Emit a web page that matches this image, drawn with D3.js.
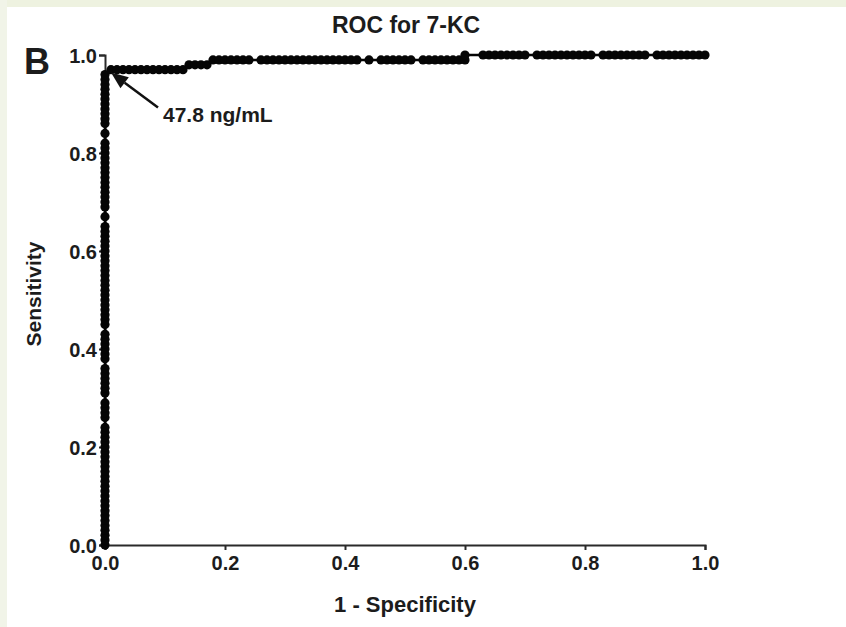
<!DOCTYPE html>
<html>
<head>
<meta charset="utf-8">
<script src="https://cdn.jsdelivr.net/npm/d3@7"></script>
<style>
  html, body { margin: 0; padding: 0; background: #ffffff; }
  svg { display: block; }
  text { font-family: "Liberation Sans", Arial, Helvetica, sans-serif; font-weight: bold; fill: #1c1c1c; }
</style>
</head>
<body>
<script>
// ---- Data ----
const chartTitle = "ROC for 7-KC";
const panelLetter = "B";
const xAxisLabel = "1 - Specificity";
const yAxisLabel = "Sensitivity";
const xTicks = [0.0, 0.2, 0.4, 0.6, 0.8, 1.0];
const yTicks = [0.0, 0.2, 0.4, 0.6, 0.8, 1.0];
const cutoffLabel = "47.8 ng/mL";
const cutoffPoint = [0.0, 0.96];

// Sensitivity values at 1 - Specificity = 0
const tprAtFpr0 = [0.00,0.01,0.02,0.03,0.04,0.05,0.06,0.07,0.08,0.09,0.10,0.11,0.12,0.13,0.14,0.15,0.16,0.17,0.18,0.19,
  0.20,0.21,0.22,0.23,0.24,0.26,0.27,0.28,0.29,0.31,0.32,0.33,0.34,0.35,0.36,0.38,0.39,0.40,0.41,0.42,0.43,
  0.45,0.46,0.47,0.48,0.49,0.50,0.51,0.52,0.53,0.54,0.55,0.56,0.57,0.58,0.59,0.60,0.61,0.62,0.63,0.64,0.65,
  0.67,0.69,0.70,0.71,0.72,0.73,0.74,0.75,0.76,0.77,0.78,0.79,0.80,0.81,0.82,0.84,0.86,0.87,0.88,0.89,0.90,
  0.91,0.92,0.93,0.94,0.95,0.96];

// 1 - Specificity values on each upper sensitivity level
const tprLevels = [0.97, 0.98, 0.99, 1.00];
const fprAt097 = [0.01,0.02,0.03,0.04,0.05,0.06,0.07,0.08,0.09,0.10,0.11,0.12,0.13];
const fprAt098 = [0.14,0.15,0.16,0.17];
const fprAt099 = [0.18,0.19,0.20,0.21,0.22,0.23,0.24,0.26,0.27,0.28,0.29,0.30,0.31,0.32,0.33,0.34,0.35,0.36,0.37,
  0.38,0.39,0.40,0.41,0.42,0.44,0.46,0.47,0.48,0.49,0.50,0.51,0.53,0.54,0.55,0.56,0.57,0.58,0.59,0.60];
const fprAt100 = [0.60,0.63,0.64,0.65,0.66,0.67,0.68,0.69,0.70,0.72,0.73,0.74,0.75,0.76,0.77,0.78,0.79,0.80,0.81,
  0.83,0.84,0.85,0.86,0.87,0.88,0.89,0.90,0.92,0.93,0.94,0.95,0.96,0.97,0.98,0.99,1.00];

// ---- Build points ----
const points = [];
tprAtFpr0.forEach(t => points.push({fpr: 0, tpr: t}));
[fprAt097, fprAt098, fprAt099, fprAt100].forEach((arr, i) => {
  arr.forEach(f => points.push({fpr: f, tpr: tprLevels[i]}));
});

// ---- Layout ----
const W = 846, H = 627;
const svg = d3.select("body").append("svg").attr("width", W).attr("height", H);

// faint scanned-page border strips
svg.append("rect").attr("x", 0).attr("y", 0).attr("width", W).attr("height", 7).attr("fill", "#eef2e0");
svg.append("rect").attr("x", 0).attr("y", 0).attr("width", 7).attr("height", H).attr("fill", "#f1f4e8");

const x = d3.scaleLinear().domain([0, 1]).range([105, 705]);
const y = d3.scaleLinear().domain([0, 1]).range([545, 55]);

// Axes
const xAxis = d3.axisBottom(x).tickValues(xTicks).tickFormat(d3.format(".1f")).tickSize(5).tickSizeOuter(5).tickPadding(6);
const yAxis = d3.axisLeft(y).tickValues(yTicks).tickFormat(d3.format(".1f")).tickSize(6).tickSizeOuter(6).tickPadding(2);

const gx = svg.append("g").attr("transform", `translate(0,${y(0)})`).call(xAxis);
const gy = svg.append("g").attr("transform", `translate(${x(0)},0)`).call(yAxis);
[gx, gy].forEach(g => {
  g.selectAll("path.domain").attr("stroke", "#2a2a2a").attr("stroke-width", 2).attr("fill", "none");
  g.selectAll(".tick line").attr("stroke", "#2a2a2a").attr("stroke-width", 2);
  g.selectAll(".tick text").style("font-size", "20px").style("font-family", "'Liberation Sans', Arial, sans-serif")
    .style("font-weight", "bold").attr("fill", "#1c1c1c");
});
gy.selectAll(".tick text").attr("dy", "0.36em");

// ROC line + dots
const line = d3.line().x(d => x(d.fpr)).y(d => y(d.tpr));
svg.append("path").datum(points).attr("d", line).attr("fill", "none").attr("stroke", "#050505").attr("stroke-width", 2.5);
svg.append("g").selectAll("circle").data(points).join("circle")
  .attr("cx", d => x(d.fpr)).attr("cy", d => y(d.tpr)).attr("r", 4.6).attr("fill", "#050505");

// Title, panel letter, axis labels
svg.append("text").attr("x", (x(0) + x(1)) / 2 + 1).attr("y", 33).attr("text-anchor", "middle")
  .style("font-size", "23px").text(chartTitle);
svg.append("text").attr("x", 24).attr("y", 74).style("font-size", "36px").text(panelLetter);
svg.append("text").attr("x", (x(0) + x(1)) / 2).attr("y", 612).attr("text-anchor", "middle")
  .style("font-size", "22px").text(xAxisLabel);
svg.append("text").attr("transform", `translate(41,${(y(0) + y(1)) / 2 - 6}) rotate(-90)`).attr("text-anchor", "middle")
  .style("font-size", "21px").text(yAxisLabel);

// Cut-off annotation arrow
const tipX = x(cutoffPoint[0]) + 6, tipY = y(cutoffPoint[1]) - 2;
const tailX = tipX + 47, tailY = tipY + 35;
const ang = Math.atan2(tailY - tipY, tailX - tipX);
const headLen = 17, headHalf = 7;
const bx = tipX + headLen * Math.cos(ang), by = tipY + headLen * Math.sin(ang);
svg.append("line").attr("x1", bx).attr("y1", by).attr("x2", tailX).attr("y2", tailY)
  .attr("stroke", "#111").attr("stroke-width", 2.5);
svg.append("polygon").attr("points", [
  [tipX, tipY],
  [bx + headHalf * Math.sin(ang), by - headHalf * Math.cos(ang)],
  [bx - headHalf * Math.sin(ang), by + headHalf * Math.cos(ang)]
].map(p => p.join(",")).join(" ")).attr("fill", "#111");
svg.append("text").attr("x", tailX + 5).attr("y", tailY + 14).style("font-size", "21px").text(cutoffLabel);
</script>
</body>
</html>
